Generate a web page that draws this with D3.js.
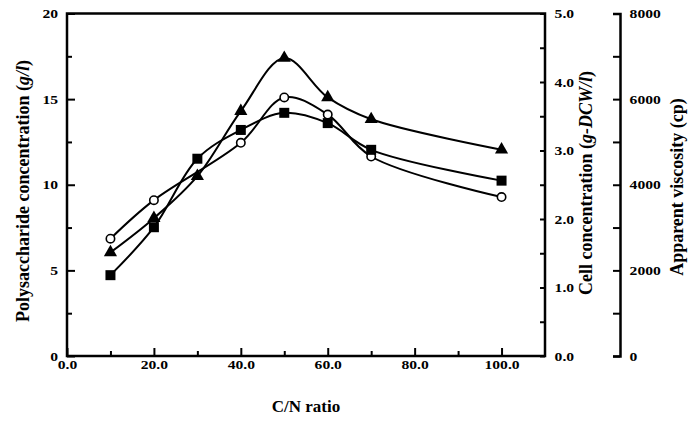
<!DOCTYPE html>
<html>
<head>
<meta charset="utf-8">
<script src="https://cdn.jsdelivr.net/npm/d3@7"></script>
<style>
  body { margin: 0; background: #fff; }
  svg text { font-family: "Liberation Serif", "Times New Roman", serif; font-weight: bold; fill: #000; }
</style>
</head>
<body>
<div id="chart"></div>
<script>
// C/N ratio (x)
const cnRatio = [10, 20, 40, 50, 60, 70, 100];
const cnRatioFull = [10, 20, 30, 40, 50, 60, 70, 100];
// polysaccharide concentration (g/l) - open circles (no visible point at 30)
const polysaccharide = [6.85, 9.1, 12.45, 15.1, 14.1, 11.65, 9.28];
// cell concentration (g-DCW/l) - filled squares
const cellConc = [1.18, 1.88, 2.88, 3.3, 3.55, 3.4, 3.01, 2.56];
// apparent viscosity (cp) - filled triangles
const viscosity = [2420, 3220, 4200, 5720, 6960, 6040, 5530, 4820];

const xTicks = [0, 20, 40, 60, 80, 100];
const xMinor = [10, 30, 50, 70, 90];
const polyTicks = [0, 5, 10, 15, 20];
const polyMinor = [2.5, 7.5, 12.5, 17.5];
const cellTicks = [0, 1, 2, 3, 4, 5];
const cellMinor = [0.5, 1.5, 2.5, 3.5, 4.5];
const viscTicks = [0, 2000, 4000, 6000, 8000];
const viscMinor = [1000, 3000, 5000, 7000];

const W = 689, H = 426;
const plot = { left: 67, right: 545, top: 13.5, bottom: 356 };
const viscAxisX = 620;

const svg = d3.select("#chart").append("svg")
    .attr("width", W)
    .attr("height", H);

const x = d3.scaleLinear().domain([0, 110]).range([plot.left, plot.right]);
const yPoly = d3.scaleLinear().domain([0, 20]).range([plot.bottom, plot.top]);
const yCell = d3.scaleLinear().domain([0, 5]).range([plot.bottom, plot.top]);
const yVisc = d3.scaleLinear().domain([0, 8000]).range([plot.bottom, plot.top]);

const tickFont = "13px";

// 刻度字在原圖中偏寬，橫向拉一點
function styleAxis(g) {
    g.selectAll("line").attr("stroke", "#000").attr("stroke-width", 2);
    g.selectAll("text")
        .style("font-size", tickFont)
        .attr("transform", "scale(1.2,1)");
}

// 左軸
svg.append("g")
    .attr("transform", `translate(${plot.left},0)`)
    .call(d3.axisLeft(yPoly).tickValues(polyTicks).tickSize(-8).tickSizeOuter(0).tickPadding(7.5).tickFormat(d3.format("d")))
    .call(g => g.select(".domain").remove())
    .call(styleAxis);
svg.append("g")
    .attr("transform", `translate(${plot.left},0)`)
    .call(d3.axisLeft(yPoly).tickValues(polyMinor).tickSize(-5).tickFormat(""))
    .call(g => g.select(".domain").remove())
    .call(styleAxis);

// 下軸
svg.append("g")
    .attr("transform", `translate(0,${plot.bottom})`)
    .call(d3.axisBottom(x).tickValues(xTicks).tickSize(-8).tickPadding(4).tickFormat(d3.format(".1f")))
    .call(g => g.select(".domain").remove())
    .call(styleAxis);
svg.append("g")
    .attr("transform", `translate(0,${plot.bottom})`)
    .call(d3.axisBottom(x).tickValues(xMinor).tickSize(-5).tickFormat(""))
    .call(g => g.select(".domain").remove())
    .call(styleAxis);

// 右軸 (cell)
svg.append("g")
    .attr("transform", `translate(${plot.right},0)`)
    .call(d3.axisRight(yCell).tickValues(cellTicks).tickSize(-5).tickPadding(8).tickFormat(d3.format(".1f")))
    .call(g => g.select(".domain").remove())
    .call(styleAxis);
svg.append("g")
    .attr("transform", `translate(${plot.right},0)`)
    .call(d3.axisRight(yCell).tickValues(cellMinor).tickSize(-5).tickFormat(""))
    .call(g => g.select(".domain").remove())
    .call(styleAxis);

// 外框
svg.append("rect")
    .attr("x", plot.left)
    .attr("y", plot.top)
    .attr("width", plot.right - plot.left)
    .attr("height", plot.bottom - plot.top)
    .attr("fill", "none")
    .attr("stroke", "#000")
    .attr("stroke-width", 2.5);

// 第三軸 (viscosity)
svg.append("g")
    .attr("transform", `translate(${viscAxisX},0)`)
    .call(d3.axisRight(yVisc).tickValues(viscTicks).tickSize(-7).tickSizeOuter(-7).tickPadding(8).tickFormat(d3.format("d")))
    .call(g => g.select(".domain").attr("stroke", "#000").attr("stroke-width", 2.5))
    .call(styleAxis);
svg.append("g")
    .attr("transform", `translate(${viscAxisX},0)`)
    .call(d3.axisRight(yVisc).tickValues(viscMinor).tickSize(-7).tickFormat(""))
    .call(g => g.select(".domain").remove())
    .call(styleAxis);

// 軸標題
svg.append("text")
    .attr("text-anchor", "middle")
    .attr("x", (plot.left + plot.right) / 2)
    .attr("y", 412)
    .style("font-size", "17px")
    .text("C/N ratio");

const polyTitle = svg.append("text")
    .attr("text-anchor", "middle")
    .attr("transform", `translate(29,191) rotate(-90)`)
    .style("font-size", "18px");
polyTitle.append("tspan").text("Polysaccharide concentration (");
polyTitle.append("tspan").style("font-style", "italic").text("g/l");
polyTitle.append("tspan").text(")");

const cellTitle = svg.append("text")
    .attr("text-anchor", "middle")
    .attr("transform", `translate(592,183) rotate(-90)`)
    .style("font-size", "18px");
cellTitle.append("tspan").text("Cell concentration (");
cellTitle.append("tspan").style("font-style", "italic").text("g-DCW/l");
cellTitle.append("tspan").text(")");

svg.append("text")
    .attr("text-anchor", "middle")
    .attr("transform", `translate(683,187) rotate(-90)`)
    .style("font-size", "18px")
    .text("Apparent viscosity (cp)");

// 曲線
const series = [
    { xs: cnRatio, values: polysaccharide, y: yPoly, marker: "circle" },
    { xs: cnRatioFull, values: cellConc, y: yCell, marker: "square" },
    { xs: cnRatioFull, values: viscosity, y: yVisc, marker: "triangle" }
];

series.forEach(s => {
    const pts = s.xs.map((c, i) => [x(c), s.y(s.values[i])]);
    svg.append("path")
        .attr("d", d3.line().curve(d3.curveCatmullRom.alpha(0.5))(pts))
        .attr("fill", "none")
        .attr("stroke", "#000")
        .attr("stroke-width", 2);
});

series.forEach(s => {
    const pts = s.xs.map((c, i) => [x(c), s.y(s.values[i])]);
    const g = svg.append("g");
    if (s.marker === "circle") {
        g.selectAll("circle").data(pts).join("circle")
            .attr("cx", d => d[0]).attr("cy", d => d[1])
            .attr("r", 4.2)
            .attr("fill", "#fff")
            .attr("stroke", "#000")
            .attr("stroke-width", 1.6);
    } else {
        const sym = d3.symbol()
            .type(s.marker === "square" ? d3.symbolSquare : d3.symbolTriangle)
            .size(s.marker === "square" ? 100 : 75);
        g.selectAll("path").data(pts).join("path")
            .attr("transform", d => `translate(${d[0]},${d[1]})`)
            .attr("d", sym)
            .attr("fill", "#000");
    }
});
</script>
</body>
</html>
